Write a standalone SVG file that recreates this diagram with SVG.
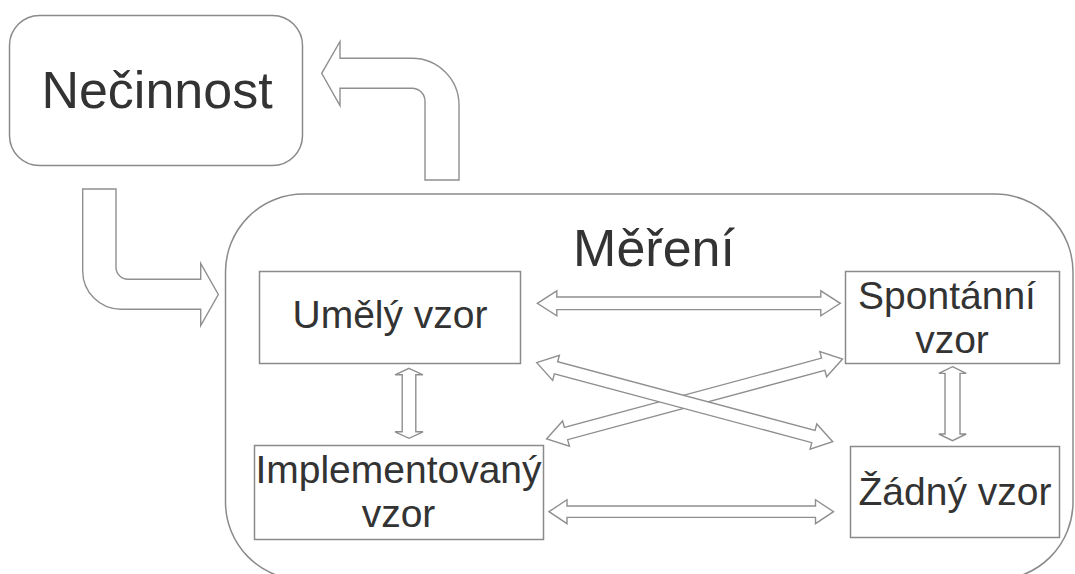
<svg xmlns="http://www.w3.org/2000/svg" width="1075" height="574" viewBox="0 0 1075 574">
  <style>
    .box { fill: #ffffff; stroke: #8a8a8a; stroke-width: 1.5; }
    .arrow { fill: #ffffff; stroke: #8f8f8f; stroke-width: 1.4; stroke-linejoin: miter; }
    .lbl { font-family: "Liberation Sans", Arial, sans-serif; fill: #333333; text-anchor: middle; }
    .big { font-size: 52px; }
    .mid { font-size: 39px; }
  </style>

  <!-- idle state -->
  <g id="necinnost">
    <rect class="box" x="9.5" y="15.5" width="293" height="150" rx="30" ry="30"/>
    <text class="lbl big" x="157" y="108">Nečinnost</text>
  </g>

  <!-- measurement container -->
  <g id="mereni">
    <rect class="box" x="225.5" y="194" width="847.5" height="386" rx="78" ry="78"/>
    <text class="lbl big" x="654" y="266">Měření</text>
  </g>

  <g id="umely-vzor">
    <rect class="box" x="259.5" y="271.5" width="261" height="92"/>
    <text class="lbl mid" x="390" y="328">Umělý vzor</text>
  </g>

  <g id="spontanni-vzor">
    <rect class="box" x="845.5" y="271.5" width="214" height="92"/>
    <text class="lbl mid" x="947" y="309">Spontánní</text>
    <text class="lbl mid" x="952" y="353">vzor</text>
  </g>

  <g id="implementovany-vzor">
    <rect class="box" x="254.5" y="445.5" width="289" height="94"/>
    <text class="lbl mid" x="398.5" y="483">Implementovaný</text>
    <text class="lbl mid" x="398.5" y="527">vzor</text>
  </g>

  <g id="zadny-vzor">
    <rect class="box" x="850.5" y="446.5" width="209" height="91"/>
    <text class="lbl mid" x="955" y="505">Žádný vzor</text>
  </g>

  <!-- connectors: hollow block arrows -->
  <g id="connectors">
    <!-- from idle into measurement -->
    <path class="arrow" d="M82.7,189 H116 V267.3 A12,12 0 0 0 128,279.3 H200.7 V263.5 L218.3,294.5 L200.7,325.5 V309.3 H121 A38.3,38.3 0 0 1 82.7,271 Z"/>
    <!-- from measurement back to idle -->
    <path class="arrow" d="M425,180 V101.3 A13,13 0 0 0 412,88.3 H340 V105.5 L321.7,73.3 L340,41.5 V58.3 H412 A47,47 0 0 1 459,105.3 V180 Z"/>

    <!-- Umělý <-> Spontánní -->
    <path class="arrow" transform="translate(537.3,303.3)" d="M0,0 L19.5,-12.5 L19.5,-6.3 L283.5,-6.3 L283.5,-12.5 L303,0 L283.5,12.5 L283.5,6.3 L19.5,6.3 L19.5,12.5 Z"/>
    <!-- Implementovaný <-> Žádný -->
    <path class="arrow" transform="translate(549,511.7)" d="M0,0 L18,-12 L18,-5.7 L266.5,-5.7 L266.5,-12 L284.5,0 L266.5,12 L266.5,5.7 L18,5.7 L18,12 Z"/>
    <!-- Umělý <-> Implementovaný -->
    <path class="arrow" transform="translate(409,368.3) rotate(90)" d="M0,0 L6.5,-14 L6.5,-6.8 L63.5,-6.8 L63.5,-14 L70,0 L63.5,14 L63.5,6.8 L6.5,6.8 L6.5,14 Z"/>
    <!-- Spontánní <-> Žádný -->
    <path class="arrow" transform="translate(952.5,366.7) rotate(90)" d="M0,0 L6.7,-13.7 L6.7,-7.5 L67.3,-7.5 L67.3,-13.7 L74,0 L67.3,13.7 L67.3,7.5 L6.7,7.5 L6.7,13.7 Z"/>
    <!-- Implementovaný <-> Spontánní -->
    <path class="arrow" transform="translate(546.7,438.8) rotate(-15.1)" d="M0,0 L20,-13 L20,-6.3 L286.4,-6.3 L286.4,-13 L306.4,0 L286.4,13 L286.4,6.3 L20,6.3 L20,13 Z"/>
    <!-- Umělý <-> Žádný -->
    <path class="arrow" transform="translate(536.7,362.7) rotate(14.94)" d="M0,0 L20,-13 L20,-6.3 L286.4,-6.3 L286.4,-13 L306.4,0 L286.4,13 L286.4,6.3 L20,6.3 L20,13 Z"/>
  </g>
</svg>
